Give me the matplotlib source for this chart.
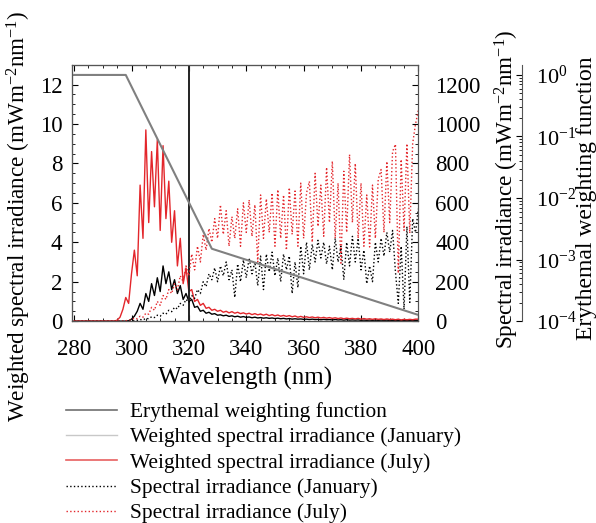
import numpy as np
import matplotlib
matplotlib.use("Agg")
import matplotlib.pyplot as plt
from matplotlib.lines import Line2D
from matplotlib.ticker import MultipleLocator, LogLocator, NullFormatter

plt.rcParams["font.family"] = ["Liberation Serif", "DejaVu Serif"]
plt.rcParams["mathtext.fontset"] = "custom"
plt.rcParams["mathtext.rm"] = "Liberation Serif"
plt.rcParams["mathtext.it"] = "Liberation Serif"

# wavelength grid, 1 nm steps
wl = np.arange(280, 401)

# weighted spectral irradiance, July (mW m-2 nm-1)
wsi_jul = [0.0] * 15 + [
    0.05, 0.2, 0.6, 1.2, 0.9, 2.4, 3.6, 2.3, 6.9, 4.2,
    9.7, 5.0, 8.6, 5.8, 9.2, 4.6, 8.9, 5.2, 7.1, 4.0,
    5.6, 2.8, 4.2, 1.9, 2.7, 1.5, 1.6, 1.0, 1.1, 0.8,
    0.9, 0.65, 0.7, 0.55, 0.6, 0.5, 0.55, 0.45, 0.5, 0.42,
    0.48, 0.4, 0.45, 0.38, 0.42, 0.36, 0.4, 0.33, 0.38, 0.32,
    0.36, 0.3, 0.35, 0.28, 0.33, 0.27, 0.31, 0.25, 0.29, 0.24,
    0.28, 0.22, 0.26, 0.2, 0.24, 0.19, 0.22, 0.18, 0.21, 0.17,
    0.2, 0.16, 0.19, 0.15, 0.18, 0.14, 0.17, 0.13, 0.16, 0.12,
    0.15, 0.12, 0.14, 0.11, 0.14, 0.1, 0.13, 0.1, 0.12, 0.09,
    0.12, 0.09, 0.11, 0.08, 0.11, 0.08, 0.1, 0.07, 0.1, 0.06,
    0.09, 0.07, 0.09, 0.07, 0.1, 0.1]

# weighted spectral irradiance, January
wsi_jan = [0.0] * 19 + [
    0.02, 0.1, 0.25, 0.5, 0.9, 0.6, 1.4, 1.0, 1.9, 1.3,
    2.2, 1.5, 2.8, 1.9, 2.5, 1.6, 2.1, 1.4, 1.8, 1.1,
    1.4, 1.0, 1.1, 0.7, 0.75, 0.5, 0.55, 0.4, 0.45, 0.35,
    0.38, 0.3, 0.32, 0.27, 0.3, 0.24, 0.27, 0.22, 0.25, 0.2,
    0.23, 0.19, 0.21, 0.17, 0.2, 0.16, 0.18, 0.15, 0.17, 0.14,
    0.16, 0.13, 0.15, 0.12, 0.14, 0.11, 0.13, 0.1, 0.12, 0.1,
    0.11, 0.09, 0.1, 0.08, 0.1, 0.08, 0.09, 0.07, 0.09, 0.07,
    0.08, 0.06, 0.08, 0.06, 0.07, 0.05, 0.07, 0.05, 0.06, 0.05,
    0.06, 0.04, 0.05, 0.04, 0.05, 0.04, 0.05, 0.04, 0.05, 0.04,
    0.05, 0.03, 0.04, 0.03, 0.04, 0.03, 0.04, 0.03, 0.04, 0.03,
    0.04, 0.04]

# spectral irradiance, January
si_jan = [0.0] * 21 + [
    2, 4, 8, 6, 14, 12, 22, 18, 30, 25,
    40, 35, 55, 48, 70, 62, 90, 80, 110, 95,
    130, 115, 160, 140, 200, 175, 240, 210, 270, 200,
    280, 230, 300, 210, 260, 120, 290, 200, 310, 220,
    320, 240, 300, 180, 330, 160, 340, 250, 350, 230,
    320, 200, 340, 260, 330, 140, 300, 170, 380, 240,
    400, 260, 390, 300, 410, 320, 400, 290, 380, 260,
    420, 300, 380, 210, 400, 280, 430, 300, 420, 260,
    360, 190, 280, 200, 400, 300, 420, 330, 450, 350,
    460, 250, 90, 380, 60, 480, 95, 520, 450, 570]

# spectral irradiance, July
si_jul = [0.0] * 18 + [
    2, 5, 8, 15, 12, 25, 20, 40, 35, 70,
    55, 100, 80, 130, 110, 160, 140, 190, 160, 230,
    200, 280, 230, 340, 260, 380, 300, 440, 360, 470,
    400, 520, 420, 590, 440, 560, 380, 530, 420, 570,
    380, 600, 450, 615, 430, 590, 300, 640, 420, 620,
    450, 650, 380, 667, 420, 640, 360, 677, 440, 660,
    380, 700, 420, 650, 709, 400, 750, 480, 690, 430,
    780, 500, 811, 420, 700, 294, 760, 450, 845, 500,
    800, 420, 700, 380, 640, 376, 690, 420, 720, 769,
    450, 810, 500, 860, 897, 243, 820, 460, 900, 446,
    900, 1000, 1070]

# erythemal weighting function knots
ery_wl = [280, 298, 328, 400]
ery_val = [1.0, 1.0, 0.0015, 0.000126]

red = "#e3262b"

fig = plt.figure(figsize=(5.96, 5.23), dpi=100)
ax = fig.add_axes([0.121, 0.386, 0.581, 0.490])
ax2 = ax.twinx()
ax3 = ax.twinx()

ax.plot(wl, wsi_jan, color="black", lw=1.0)
ax.plot(wl, wsi_jul, color=red, lw=1.0)
ax.axvline(320, color="#222222", lw=1.4)

ax2.plot(wl, si_jan, color="black", lw=1.0, ls=":")
ax2.plot(wl, si_jul, color=red, lw=1.0, ls=":")

ax3.plot(ery_wl, ery_val, color="#808080", lw=1.5)
ax3.set_yscale("log")
ax3.set_ylim(1e-4, 10 ** 0.164)
ax3.spines["right"].set_position(("axes", 1.30))
ax3.yaxis.set_major_locator(LogLocator(base=10, numticks=10))
ax3.yaxis.set_minor_locator(LogLocator(base=10, subs=np.arange(2, 10), numticks=20))
ax3.yaxis.set_minor_formatter(NullFormatter())
ax3.tick_params(axis="y", which="major", direction="in", labelsize=16, pad=10, length=4)
ax3.tick_params(axis="y", which="minor", direction="in", length=2)
ax3.set_ylabel("Erythemal weighting function", fontsize=17)
ax3.yaxis.set_label_coords(1.455, 0.48)

ax.set_xlim(279.3, 400)
ax.set_ylim(0, 13)
ax2.set_ylim(0, 1300)

ax.xaxis.set_major_locator(MultipleLocator(20))
ax.xaxis.set_minor_locator(MultipleLocator(5))
ax.yaxis.set_major_locator(MultipleLocator(2))
ax.yaxis.set_minor_locator(MultipleLocator(0.5))
ax2.yaxis.set_major_locator(MultipleLocator(200))
ax2.yaxis.set_minor_locator(MultipleLocator(50))

ax.tick_params(which="both", direction="in", top=True)
ax.tick_params(axis="x", which="major", labelsize=16.5, pad=13, length=4)
ax.tick_params(axis="y", which="major", labelsize=16.5, pad=7, length=4)
ax.tick_params(which="minor", length=2)
ax2.tick_params(which="both", direction="in")
ax2.tick_params(axis="y", which="major", labelsize=16.5, pad=12, length=4)
ax2.tick_params(which="minor", length=2)

for a in (ax, ax2, ax3):
    for s in a.spines.values():
        s.set_color("#555555")
        s.set_linewidth(0.8)

ax.set_xlabel("Wavelength (nm)", fontsize=18, labelpad=5)
ax.set_ylabel(r"Weighted spectral irradiance (mWm$^{-2}$nm$^{-1}$)", fontsize=16.7)
ax.yaxis.set_label_coords(-0.113, 0.41)
ax2.set_ylabel(r"Spectral irradiance (mWm$^{-2}$nm$^{-1}$)", fontsize=16.7)
ax2.yaxis.set_label_coords(1.214, 0.515)

handles = [
    Line2D([], [], color="#707070", lw=1.2),
    Line2D([], [], color="#c8c8c8", lw=1.0),
    Line2D([], [], color="#e86060", lw=1.2),
    Line2D([], [], color="black", lw=1.0, ls=":"),
    Line2D([], [], color=red, lw=1.0, ls=":"),
]
labels = [
    "Erythemal weighting function",
    "Weighted spectral irradiance (January)",
    "Weighted spectral irradiance (July)",
    "Spectral irradiance (January)",
    "Spectral irradiance (July)",
]
fig.legend(handles, labels, loc="upper left", bbox_to_anchor=(0.11, 0.231),
           frameon=False, fontsize=15.4, handlelength=2.4, handletextpad=0.6,
           labelspacing=0.25, borderaxespad=0, borderpad=0)

fig.savefig("out.png", dpi=100)
